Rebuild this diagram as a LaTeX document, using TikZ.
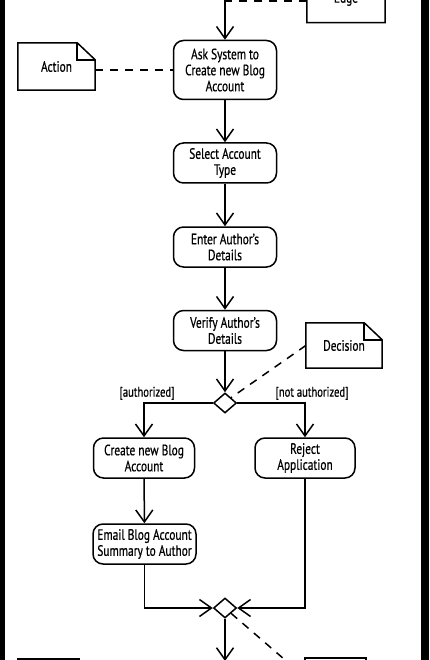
\documentclass[tikz,border=0pt]{standalone}
\usepackage{fontspec}
\setmainfont{PT Sans}[FakeStretch=0.76, FakeBold=0.6]
\usepackage{tikz}
\usetikzlibrary{arrows.meta}
\usetikzlibrary{positioning}
\usetikzlibrary{shapes.geometric}
\tikzstyle{process} = [rectangle, rounded corners=10pt, minimum width=103pt, minimum height=40pt, align=center, inner sep=1pt, draw=black, line width=1.5pt, font=\fontsize{15}{16}\selectfont]
\tikzstyle{note} = [rectangle, minimum width=77pt, minimum height=47pt, align=center, font=\fontsize{15}{16}\selectfont]
\tikzstyle{decision} = [diamond, minimum width=23pt, minimum height=20pt, inner sep=0pt, draw=black, line width=1.5pt]
\tikzstyle{arrow} = [line width=1.5pt,-{Straight Barb[length=12pt,width=17pt]}]
\tikzstyle{link} = [line width=1.5pt, dash pattern=on 8pt off 7pt]
% outline of a note with a folded corner
\newcommand{\noteframe}[1]{%
  \draw[line width=1.5pt] ([xshift=-18pt]#1.north east) -- (#1.north west) -- (#1.south west)
    -- (#1.south east) -- ([yshift=-17pt]#1.north east) -- cycle;
  \draw[line width=1.5pt] ([xshift=-18pt]#1.north east) -- ([xshift=-18pt,yshift=-17pt]#1.north east)
    -- ([yshift=-17pt]#1.north east);}

\begin{document}
\begin{tikzpicture}[x=1pt, y=-1pt]
    \useasboundingbox (0,0) rectangle (429,660);
    \clip (0,0) rectangle (429,660);
    \fill[white] (0,0) rectangle (429,660);
    \fill[black] (0,0) rectangle (5,660);
    \fill[black] (421,0) rectangle (429,660);

    % actions
    \node(ask)[process, minimum height=59pt] at (225,70) {Ask System to\\Create new Blog\\Account};
    \node(select)[process] at (225,163) {Select Account\\Type};
    \node(enter)[process] at (225,247) {Enter Author's\\Details};
    \node(verify)[process] at (225,330.5) {Verify Author's\\Details};
    \node(dec)[decision] at (225,403) {};
    \node(create)[process, minimum width=101pt] at (144,458) {Create new Blog\\Account};
    \node(reject)[process, minimum width=100pt] at (305,458) {Reject\\Application};
    \node(email)[process] at (144.5,544) {Email Blog Account\\Summary to Author};
    \node(merge)[decision] at (225,608) {};
    \coordinate (top) at (225,-30);
    \coordinate (bottom) at (225,661);

    % notes
    \node(edge)[note, minimum width=78pt] at (346,-1) {Edge};
    \node(action)[note] at (56.5,66.5) {Action};
    \node(decnote)[note, minimum width=76pt, minimum height=45pt] at (344,345.5) {Decision};
    \node(noteL)[note, minimum width=61pt, minimum height=38pt] at (48.5,678) {};
    \node(noteR)[note, minimum width=61pt, minimum height=38pt] at (335.5,677) {};
    \noteframe{edge}
    \noteframe{action}
    \noteframe{decnote}
    \draw[line width=1.5pt] (noteL.south west) rectangle (noteL.north east);
    \draw[line width=1.5pt] (noteR.south west) rectangle (noteR.north east);

    % flow
    \draw[arrow](top) -- (ask);
    \draw[arrow](ask) -- (select);
    \draw[arrow](select) -- (enter);
    \draw[arrow](enter) -- (verify);
    \draw[arrow](verify) -- (dec);
    \draw[arrow](dec.west) -| node[anchor=south, xshift=3pt, yshift=-1pt, font=\fontsize{14}{15}\selectfont] {[authorized]} (create);
    \draw[arrow](dec.east) -| node[anchor=south, xshift=7pt, yshift=-1pt, font=\fontsize{14}{15}\selectfont] {[not authorized]} (reject);
    \draw[arrow](create) -- (email);
    \draw[arrow](email) |- (merge.west);
    \draw[arrow](reject) |- (merge.east);
    \draw[arrow](merge) -- (bottom);

    % note links
    \draw[link](edge.west |- 0,1) -- (top |- 0,1);
    \draw[link](action.east |- ask.west) -- (ask.west);
    \draw[link](decnote.west) -- (dec.north east);
    \draw[link](merge.south east) -- (noteR.west);
  \end{tikzpicture}
\end{document}
